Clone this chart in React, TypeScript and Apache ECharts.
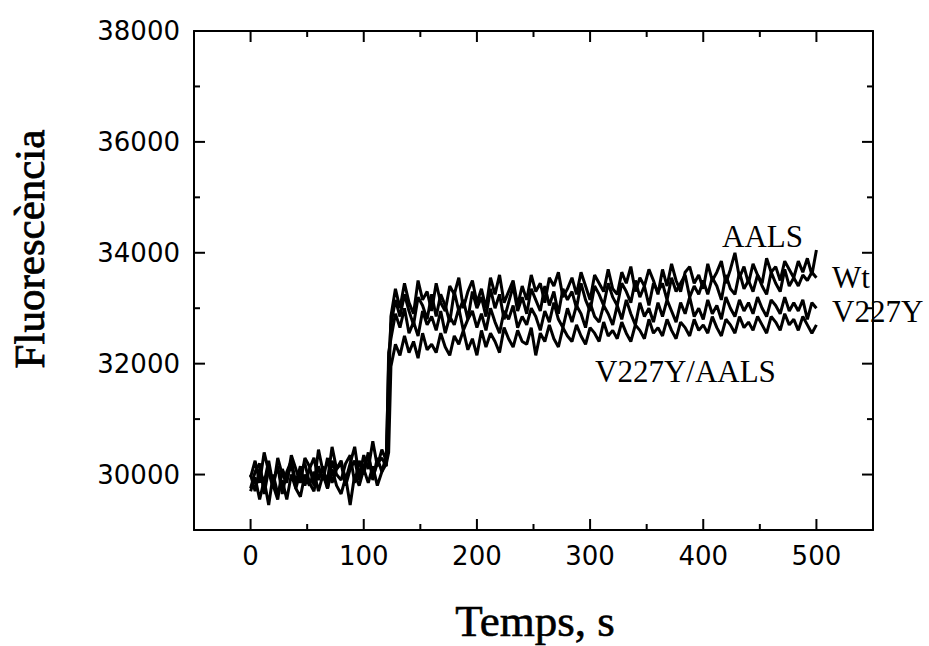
import React, { useEffect, useRef } from "react";
import * as echarts from "echarts";

const times = [
  0, 4, 8, 12, 16, 20, 24, 28, 32, 36,
  40, 44, 48, 52, 56, 60, 64, 68, 72, 76,
  80, 84, 88, 92, 96, 100, 104, 108, 112, 116, 120,
  122,
  124, 128, 132, 136, 140, 144, 148, 152, 156, 160,
  164, 168, 172, 176, 180, 184, 188, 192, 196, 200,
  204, 208, 212, 216, 220, 224, 228, 232, 236, 240,
  244, 248, 252, 256, 260, 264, 268, 272, 276, 280,
  284, 288, 292, 296, 300, 304, 308, 312, 316, 320,
  324, 328, 332, 336, 340, 344, 348, 352, 356, 360,
  364, 368, 372, 376, 380, 384, 388, 392, 396, 400,
  404, 408, 412, 416, 420, 424, 428, 432, 436, 440,
  444, 448, 452, 456, 460, 464, 468, 472, 476, 480,
  484, 488, 492, 496, 500
];

const aals = [
  29950, 30250, 29850, 30400, 30050, 29750, 30300, 30000, 29850, 30350,
  30100, 29850, 30300, 30150, 29800, 30450, 30050, 29900, 30500, 30100,
  30250, 29900, 30200, 30500, 29950, 30350, 30100, 30600, 30150, 30450, 30250,
  31500,
  32850, 33350, 33000, 33450, 33100, 32900, 33500, 33150, 33300, 32950,
  33450, 33100, 32950, 33400, 33250, 33550, 33000, 33300, 33500, 33100,
  33350, 33000, 33550, 33250, 33600, 33100, 33300, 33500, 33050, 33400,
  33150, 33600, 33300, 33450, 33100, 33550, 33400, 33650, 33200, 33350,
  33550, 33250, 33650, 33400, 33150, 33600, 33450, 33300, 33700, 33350,
  33250, 33650, 33450, 33750, 33300, 33550, 33400, 33700, 33500, 33250,
  33700, 33400, 33800, 33500, 33300, 33650, 33750, 33450, 33600, 33350,
  33800, 33500, 33650, 33850, 33450, 33700, 34000, 33550, 33750, 33450,
  33800, 33600, 33450, 33900, 33650, 33750, 33500, 33850, 33700, 33550,
  33850, 33650, 33900, 33600, 34050
];

const wt = [
  29750, 30050, 30200, 29650, 30100, 29850, 30150, 29650, 30050, 30250,
  29850, 30150, 29800, 30100, 30300, 29900, 30150, 29750, 30250, 30000,
  29900, 30200, 30350, 29850, 30250, 30000, 30400, 29900, 30300, 30050, 30350,
  32000,
  32700, 33150, 32850, 33250, 32950, 32700, 33200, 33050, 32800, 33250,
  32850, 33250, 33050, 32750, 33300, 32950, 33150, 32800, 33300, 33000,
  33200, 32850, 33350, 33000, 33250, 32800, 33100, 33400, 32950, 33200,
  32900, 33350, 33150, 32950, 33400, 33050, 33300, 32900, 33350, 33150,
  33300, 33000, 33450, 33150, 32950, 33400, 33250, 33050, 33450, 33200,
  33050, 33450, 33300, 33100, 33500, 33200, 33400, 33050, 33450, 33300,
  33450, 33150, 33550, 33300, 33450, 33600, 33200, 33400, 33250, 33500,
  33250, 33550, 33400, 33150, 33600, 33350, 33250, 33650, 33350, 33500,
  33300, 33600, 33400, 33250, 33650, 33450, 33300, 33700, 33400, 33550,
  33400, 33600, 33500, 33650, 33550
];

const v227y = [
  30000, 29700, 30100, 29850, 30250, 29800, 29550, 30100, 29900, 30200,
  29750, 30050, 30200, 29850, 29700, 30150, 29900, 30300, 29850, 30100,
  30200, 29800, 30100, 30250, 29900, 30150, 30350, 29950, 30200, 30300, 30150,
  32200,
  32450, 32900, 32650, 33000, 32550, 32750, 32500, 32950, 32700, 32850,
  32600, 32950, 32550, 32850, 32700, 33000, 32600, 32800, 32950, 32650,
  32900, 32600, 33000, 32750, 32550, 32950, 32800, 33050, 32650, 32850,
  32700, 33000, 32850, 32600, 32950, 32750, 33100, 32800, 32650, 33000,
  32750, 33050, 32900, 32650, 33100, 32850, 32750, 33050, 32900, 32700,
  33050, 32800, 33150, 32900, 32700, 33100, 32850, 33000, 32750, 33100,
  32850, 33150, 32950, 32750, 33100, 32900, 33200, 32850, 33000, 32800,
  33150, 32900, 33050, 32800, 33200, 33000, 32850, 33150, 32950, 33100,
  32900, 33200, 33000, 32850, 33150, 33050, 32900, 33200, 32950, 33100,
  32950, 33150, 32800, 33100, 33000
];

const v227yAals = [
  29700, 29950, 29550, 29900, 29450, 30000, 29650, 29900, 29550, 30000,
  29750, 29600, 30000, 29800, 30050, 29700, 30000, 29750, 30100, 29800,
  29650, 29950, 29450, 30000, 29800, 30100, 29850, 30150, 29800, 30050, 30200,
  30400,
  31950, 32350, 32150, 32500, 32200, 32400, 32100, 32550, 32250, 32350,
  32200, 32550, 32300, 32150, 32500, 32350, 32600, 32250, 32450, 32150,
  32600, 32300, 32550, 32400, 32200, 32650, 32450, 32300, 32600, 32400,
  32350, 32650, 32150, 32550, 32400, 32700, 32450, 32300, 32650, 32500,
  32400, 32700, 32500, 32350, 32650, 32550, 32400, 32750, 32500, 32600,
  32450, 32750, 32550, 32400, 32700, 32600, 32450, 32800, 32550, 32650,
  32500, 32800, 32600, 32450, 32750, 32650, 32500, 32800, 32600, 32700,
  32550, 32850, 32650, 32500, 32800, 32700, 32550, 32850, 32650, 32750,
  32600, 32850, 32700, 32550, 32850, 32750, 32600, 32900, 32700, 32800,
  32600, 32850, 32700, 32550, 32700
];

const xMajorTicks = [0, 100, 200, 300, 400, 500];
const xMinorTicks = [50, 150, 250, 350, 450];
const yMajorTicks = [30000, 32000, 34000, 36000, 38000];
const yMinorTicks = [31000, 33000, 35000, 37000];

const xTitle = "Temps, s";
const yTitle = "Fluorescència";
const seriesLabels = ["AALS", "Wt", "V227Y", "V227Y/AALS"];

const X_MIN = -50, X_MAX = 550, Y_MIN = 29000, Y_MAX = 38000;

const frameLine = { color: "#000", width: 2 };
const labelFont = { color: "#000", fontFamily: "DejaVu Sans", fontSize: 26 };

function tickSeries(values: number[], axis: "x" | "y", len: number) {
  return {
    type: "custom",
    xAxisIndex: 0,
    yAxisIndex: 0,
    silent: true,
    clip: false,
    z: 5,
    data: values.map((v) => (axis === "x" ? [v, Y_MIN] : [X_MIN, v])),
    encode: { x: 0, y: 1 },
    renderItem: (params: any, api: any) => {
      const st = { stroke: "#000", lineWidth: 2 };
      if (axis === "x") {
        const v = api.value(0);
        const b = api.coord([v, Y_MIN]);
        const t = api.coord([v, Y_MAX]);
        return {
          type: "group",
          children: [
            { type: "line", shape: { x1: b[0], y1: b[1], x2: b[0], y2: b[1] - len }, style: st },
            { type: "line", shape: { x1: t[0], y1: t[1], x2: t[0], y2: t[1] + len }, style: st },
          ],
        };
      }
      const v = api.value(1);
      const l = api.coord([X_MIN, v]);
      const r = api.coord([X_MAX, v]);
      return {
        type: "group",
        children: [
          { type: "line", shape: { x1: l[0], y1: l[1], x2: l[0] + len, y2: l[1] }, style: st },
          { type: "line", shape: { x1: r[0], y1: r[1], x2: r[0] - len, y2: r[1] }, style: st },
        ],
      };
    },
  };
}

export default function App() {
  const ref = useRef<HTMLDivElement>(null);
  useEffect(() => {
    if (!ref.current) return;
    const chart = echarts.init(ref.current, null, { renderer: "svg" });
    const mk = (vals: number[]) => times.map((t, i) => [t, vals[i]]);
    const lineSeries = [aals, wt, v227y, v227yAals].map((vals, i) => ({
      type: "line",
      name: seriesLabels[i],
      data: mk(vals),
      xAxisIndex: 0,
      yAxisIndex: 0,
      showSymbol: false,
      symbol: "none",
      lineStyle: { color: "#000", width: 3 },
      silent: true,
    }));
    const serif = "Liberation Serif";
    const fmt = (v: number) => String(v);
    chart.setOption({
      animation: false,
      backgroundColor: "#fff",
      grid: { left: 194, top: 31, right: 56, bottom: 116, containLabel: false },
      xAxis: [
        {
          type: "value", position: "bottom", min: X_MIN, max: X_MAX,
          axisLine: { show: true, onZero: false, lineStyle: frameLine },
          axisTick: { show: false },
          axisLabel: { customValues: xMajorTicks, formatter: fmt, margin: 13, ...labelFont },
          splitLine: { show: false },
        },
        {
          type: "value", position: "top", min: X_MIN, max: X_MAX,
          axisLine: { show: true, onZero: false, lineStyle: frameLine },
          axisTick: { show: false }, axisLabel: { show: false }, splitLine: { show: false },
        },
      ],
      yAxis: [
        {
          type: "value", position: "left", min: Y_MIN, max: Y_MAX,
          axisLine: { show: true, onZero: false, lineStyle: frameLine },
          axisTick: { show: false },
          axisLabel: { customValues: yMajorTicks, formatter: fmt, margin: 14, ...labelFont },
          splitLine: { show: false },
        },
        {
          type: "value", position: "right", min: Y_MIN, max: Y_MAX,
          axisLine: { show: true, onZero: false, lineStyle: frameLine },
          axisTick: { show: false }, axisLabel: { show: false }, splitLine: { show: false },
        },
      ],
      series: [
        ...lineSeries,
        tickSeries(xMajorTicks, "x", 11),
        tickSeries(xMinorTicks, "x", 6),
        tickSeries(yMajorTicks, "y", 11),
        tickSeries(yMinorTicks, "y", 6),
      ],
      graphic: [
        {
          type: "text", x: 535, y: 621,
          style: { text: xTitle, fontFamily: serif, fontSize: 45, fill: "#000", stroke: "#000", lineWidth: 0.6, align: "center", verticalAlign: "middle" },
        },
        {
          type: "text", x: 29, y: 249, rotation: Math.PI / 2,
          style: { text: yTitle, fontFamily: serif, fontSize: 43, fill: "#000", stroke: "#000", lineWidth: 0.8, align: "center", verticalAlign: "middle" },
        },
        {
          type: "text", x: 722, y: 236,
          style: { text: seriesLabels[0], fontFamily: serif, fontSize: 31, fill: "#000", align: "left", verticalAlign: "middle" },
        },
        {
          type: "text", x: 832, y: 277,
          style: { text: seriesLabels[1], fontFamily: serif, fontSize: 31, fill: "#000", align: "left", verticalAlign: "middle" },
        },
        {
          type: "text", x: 832, y: 311,
          style: { text: seriesLabels[2], fontFamily: serif, fontSize: 31, fill: "#000", align: "left", verticalAlign: "middle" },
        },
        {
          type: "text", x: 595, y: 371,
          style: { text: seriesLabels[3], fontFamily: serif, fontSize: 31, fill: "#000", align: "left", verticalAlign: "middle" },
        },
      ],
    });
    return () => chart.dispose();
  }, []);
  return <div ref={ref} style={{ position: "fixed", left: 0, top: 0, width: 929, height: 646 }} />;
}
